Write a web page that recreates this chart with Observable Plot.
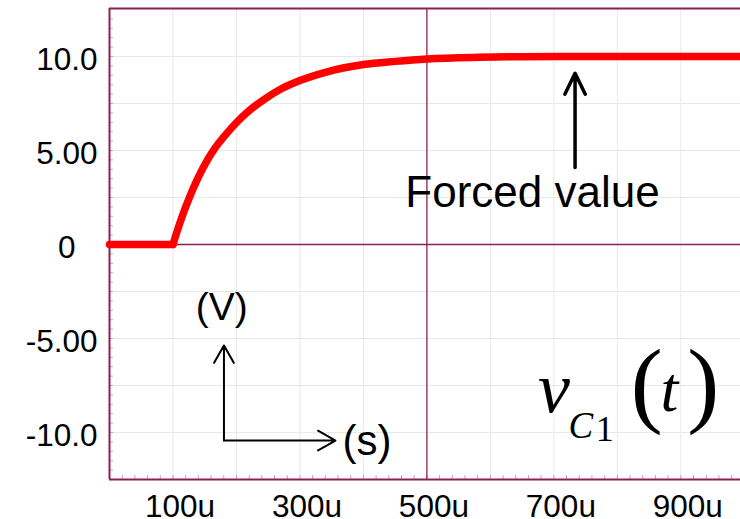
<!DOCTYPE html>
<html><head><meta charset="utf-8">
<script src="https://cdn.jsdelivr.net/npm/d3@7"></script>
<script src="https://cdn.jsdelivr.net/npm/@observablehq/plot@0.6"></script>
<style>body{margin:0;background:#fff} svg{display:block}</style>
</head><body><div id="chart"></div>
<script>
// ---- data ----
const timeUs  = [0, 100, 107, 114, 125, 140, 155, 167, 180, 199, 220, 245, 270, 300, 340, 400, 450, 500, 583, 650, 800, 1000];
const voltage = [0, 0, 0.75, 1.45, 2.43, 3.58, 4.54, 5.17, 5.72, 6.45, 7.12, 7.75, 8.27, 8.72, 9.16, 9.57, 9.74, 9.87, 9.96, 9.99, 10, 10];
const switchTime = 100;

const xTicks = [100, 300, 500, 700, 900];
const xTickLabels = ["100u", "300u", "500u", "700u", "900u"];
const yTicks = [10, 5, -5, -10];
const yTickLabels = ["10.0", "5.00", "-5.00", "-10.0"];
const yZeroTick = [0];
const yZeroLabel = ["0"];

const gridXTicks = [100, 200, 300, 400, 600, 700, 800, 900];
const gridYTicks = [10, 7.5, 5, 2.5, -2.5, -5, -7.5, -10];
const minorXTicks = d3.range(20, 1000, 20);
const minorYTicks = d3.range(-12, 12.5, 0.5);

const forcedLabel = ["Forced value"];
const unitV = ["(V)"];
const unitS = ["(s)"];

// flat part (before the switch) and charging part (after), drawn as two series
const series = [];
timeUs.forEach((t, i) => {
  if (t <= switchTime) series.push({t, v: voltage[i], seg: "flat"});
  if (t >= switchTime) series.push({t, v: voltage[i], seg: "rise"});
});

const sans = "'Liberation Sans', Arial, sans-serif";
const serif = "'Liberation Serif', 'Times New Roman', serif";
const purple = "#8c1f55";
const minorCol = "#caa0b6";

const chart = Plot.plot({
  width: 740, height: 519,
  marginLeft: 109, marginRight: 0, marginTop: 8, marginBottom: 40,
  style: {fontFamily: sans, background: "#fff", overflow: "visible"},
  x: {domain: [0, 994], axis: null},
  y: {domain: [-12.5, 12.553], axis: null},
  marks: [
    Plot.gridX(gridXTicks, {stroke: "#e8e8e8", strokeOpacity: 1}),
    Plot.gridY(gridYTicks, {stroke: "#e8e8e8", strokeOpacity: 1}),
    Plot.ruleX(minorXTicks, {insetTop: 467, stroke: minorCol, strokeWidth: 1}),
    Plot.ruleY(minorYTicks, {insetRight: 627, stroke: minorCol, strokeWidth: 1}),
    Plot.ruleY([0], {stroke: purple, strokeWidth: 1.3}),
    Plot.ruleX([500], {stroke: purple, strokeWidth: 1.3}),
    Plot.ruleX([0], {stroke: purple, strokeWidth: 2}),
    Plot.ruleY([12.553, -12.5], {stroke: purple, strokeWidth: 2}),
    Plot.line(series, {x: "t", y: "v", z: "seg", curve: "monotone-x", stroke: "#ff0000", strokeWidth: 7.5,
      strokeLinecap: "round", strokeLinejoin: "round"}),
    Plot.axisX(xTicks, {tickSize: 0, tickPadding: 15, fontSize: 31.5, dx: 7, label: null,
      tickFormat: d => xTickLabels[xTicks.indexOf(d)]}),
    Plot.axisY(yTicks, {tickSize: 0, tickPadding: 12, fontSize: 31.5, dy: 3, label: null,
      tickFormat: d => yTickLabels[yTicks.indexOf(d)]}),
    Plot.axisY(yZeroTick, {tickSize: 0, tickPadding: 34, fontSize: 31.5, dy: 3, label: null,
      tickFormat: d => yZeroLabel[yZeroTick.indexOf(d)]}),
    // arrows
    Plot.arrow([{x1: 733.4, y1: 4.1, x2: 733.4, y2: 9.11}], {x1: "x1", y1: "y1", x2: "x2", y2: "y2",
      stroke: "#000", strokeWidth: 3.5, headLength: 10, headAngle: 52}),
    Plot.arrow([{x1: 180.3, y1: -10.43, x2: 180.3, y2: -5.37}, {x1: 180.3, y1: -10.43, x2: 356, y2: -10.43}],
      {x1: "x1", y1: "y1", x2: "x2", y2: "y2", stroke: "#000", strokeWidth: 2, headLength: 15, headAngle: 59}),
    // annotations
    Plot.text(forcedLabel, {x: () => 466, y: () => 1.97, text: d => d, textAnchor: "start", lineAnchor: "bottom",
      fontSize: 44, fill: "#000", fontFamily: sans}),
    Plot.text(unitV, {x: () => 176.7, y: () => -4.04, text: d => d, textAnchor: "middle", lineAnchor: "bottom",
      fontSize: 39, fill: "#000", fontFamily: sans}),
    Plot.text(unitS, {x: () => 367, y: () => -11.22, text: d => d, textAnchor: "start", lineAnchor: "bottom",
      fontSize: 42, fill: "#000", fontFamily: sans}),
    // v_{C1}(t)
    Plot.text(["v"], {x: () => 675, y: () => -8.9, text: d => d, textAnchor: "start", lineAnchor: "bottom",
      fontSize: 72, fontStyle: "italic", fill: "#000", fontFamily: serif}),
    Plot.text(["C"], {x: () => 723, y: () => -10.27, text: d => d, textAnchor: "start", lineAnchor: "bottom",
      fontSize: 37, fontStyle: "italic", fill: "#000", fontFamily: serif}),
    Plot.text(["1"], {x: () => 766, y: () => -10.43, text: d => d, textAnchor: "start", lineAnchor: "bottom",
      fontSize: 36, fill: "#000", fontFamily: serif}),
    Plot.text(["("], {x: () => 821, y: () => -9.07, text: d => d, textAnchor: "start", lineAnchor: "bottom",
      fontSize: 96, fill: "#000", fontFamily: serif}),
    Plot.text(["t"], {x: () => 868, y: () => -8.83, text: d => d, textAnchor: "start", lineAnchor: "bottom",
      fontSize: 64, fontStyle: "italic", fill: "#000", fontFamily: serif}),
    Plot.text([")"], {x: () => 910, y: () => -9.07, text: d => d, textAnchor: "start", lineAnchor: "bottom",
      fontSize: 96, fill: "#000", fontFamily: serif})
  ]
});
document.getElementById("chart").appendChild(chart);
</script>
</body></html>
